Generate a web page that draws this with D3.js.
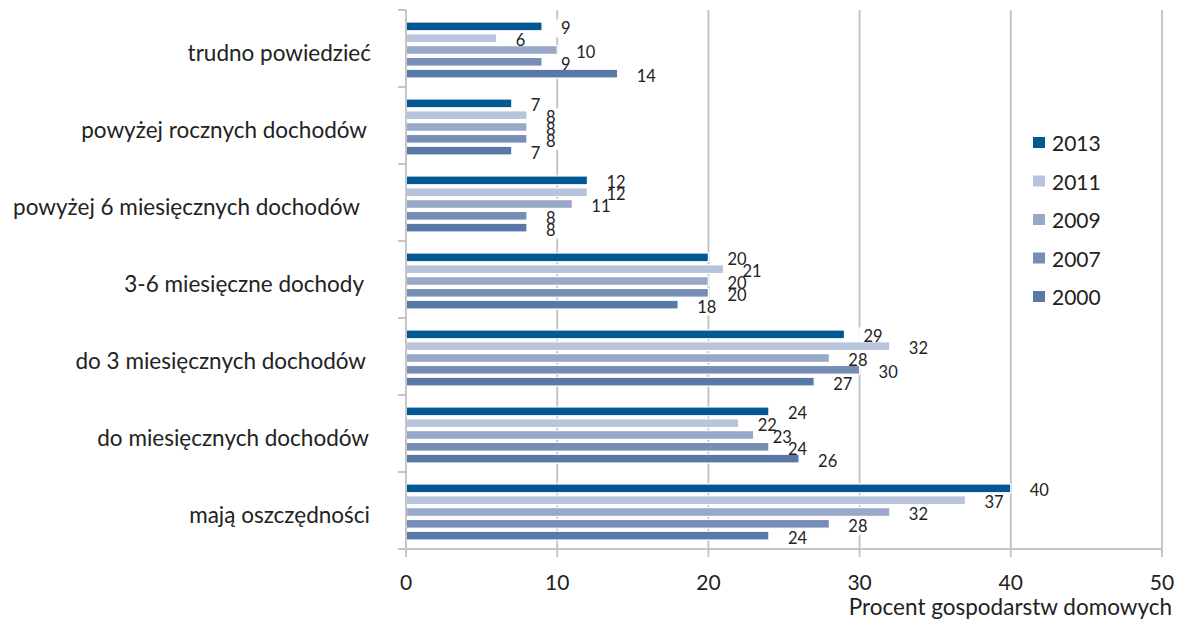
<!DOCTYPE html>
<html>
<head>
<meta charset="utf-8">
<script src="https://cdn.jsdelivr.net/npm/d3@7/dist/d3.min.js"></script>
<style>
  html, body { margin: 0; padding: 0; background: #fff; }
  svg { display: block; font-family: Lato, "Open Sans", sans-serif; }
</style>
</head>
<body>
<svg id="chart" width="1182" height="621"></svg>
<script>
// Savings horizon of households, by survey year
const categories = [
  "trudno powiedzieć",
  "powyżej rocznych dochodów",
  "powyżej 6 miesięcznych dochodów",
  "3-6 miesięczne dochody",
  "do 3 miesięcznych dochodów",
  "do miesięcznych dochodów",
  "mają oszczędności"
];
const years = ["2013", "2011", "2009", "2007", "2000"];
const values2013 = [9, 7, 12, 20, 29, 24, 40];
const values2011 = [6, 8, 12, 21, 32, 22, 37];
const values2009 = [10, 8, 11, 20, 28, 23, 32];
const values2007 = [9, 8, 8, 20, 30, 24, 28];
const values2000 = [14, 7, 8, 18, 27, 26, 24];
const xTicks = [0, 10, 20, 30, 40, 50];
const xTitle = "Procent gospodarstw domowych";

const seriesValues = { "2013": values2013, "2011": values2011, "2009": values2009, "2007": values2007, "2000": values2000 };
const colors = { "2013": "#025892", "2011": "#b8c3dc", "2009": "#97a8c8", "2007": "#768db6", "2000": "#5879a8" };

// right edge of each category label (layout only)
const labelRight = [371, 367, 360, 364, 366, 369, 370];

const svg = d3.select("#chart");
const plotLeft = 406, plotRight = 1162, plotTop = 10, plotBottom = 549;

const x = d3.scaleLinear().domain([0, 50]).range([plotLeft, plotRight]);
const y = d3.scaleBand().domain(categories).range([plotTop, plotBottom]);
const yInner = d3.scaleBand().domain(years).range([12, 68]).paddingInner(0.26);

const gridColor = "#c6c6c6";
const textColor = "#222";

// vertical gridlines
svg.append("g").selectAll("line").data(xTicks.filter(d => d > 0)).join("line")
  .attr("x1", d => x(d)).attr("x2", d => x(d))
  .attr("y1", plotTop).attr("y2", plotBottom)
  .attr("stroke", gridColor).attr("stroke-width", 2);

// layers: label backing, bars, label text
const backLayer = svg.append("g");
const barLayer = svg.append("g");
const labelLayer = svg.append("g");

categories.forEach((c, i) => {
  const y0 = y(c);
  years.forEach(yr => {
    const v = seriesValues[yr][i];
    barLayer.append("rect")
      .attr("x", x(0)).attr("y", y0 + yInner(yr))
      .attr("width", x(v) - x(0)).attr("height", yInner.bandwidth())
      .attr("fill", colors[yr])
      .attr("stroke", "#fff").attr("stroke-width", 1.2);

    const lx = x(v) + 19;
    const ly = y0 + yInner(yr) + yInner.bandwidth() / 2 + 2;
    const t = labelLayer.append("text")
      .attr("x", lx).attr("y", ly)
      .attr("dy", "0.36em")
      .attr("font-size", 16.5).attr("fill", textColor)
      .text(v);
    const w = t.node().getComputedTextLength();
    backLayer.append("rect")
      .attr("x", lx - 5).attr("y", ly - 9)
      .attr("width", w + 9).attr("height", 18)
      .attr("fill", "#fff");
  });
});

// frame: left axis, bottom axis
svg.append("line").attr("x1", plotLeft).attr("x2", plotLeft).attr("y1", plotTop).attr("y2", plotBottom)
  .attr("stroke", gridColor).attr("stroke-width", 2);
svg.append("line").attr("x1", plotLeft - 8).attr("x2", plotRight).attr("y1", plotBottom).attr("y2", plotBottom)
  .attr("stroke", gridColor).attr("stroke-width", 2);

// left tick marks at band boundaries
const boundaries = categories.map(c => y(c)).concat([plotBottom]);
svg.append("g").selectAll("line").data(boundaries).join("line")
  .attr("x1", plotLeft - 8).attr("x2", plotLeft)
  .attr("y1", d => d).attr("y2", d => d)
  .attr("stroke", gridColor).attr("stroke-width", 2);

// bottom tick marks
svg.append("g").selectAll("line").data(xTicks).join("line")
  .attr("x1", d => x(d)).attr("x2", d => x(d))
  .attr("y1", plotBottom).attr("y2", plotBottom + 8)
  .attr("stroke", gridColor).attr("stroke-width", 2);

// x tick labels
svg.append("g").selectAll("text").data(xTicks).join("text")
  .attr("x", d => x(d)).attr("y", 589.5)
  .attr("text-anchor", "middle")
  .attr("font-size", 21).attr("fill", textColor)
  .text(d => d);

// x axis title
svg.append("text")
  .attr("x", 1172).attr("y", 615)
  .attr("text-anchor", "end").attr("font-size", 22.5).attr("fill", textColor)
  .text(xTitle);

// category labels
svg.append("g").selectAll("text").data(categories).join("text")
  .attr("x", (c, i) => labelRight[i]).attr("y", c => y(c) + y.bandwidth() / 2 + 12)
  .attr("text-anchor", "end")
  .attr("font-size", 22.5).attr("fill", textColor)
  .text(c => c);

// legend
const legend = svg.append("g").selectAll("g").data(years).join("g")
  .attr("transform", (d, i) => `translate(1033,${143 + i * 38.5})`);
legend.append("rect").attr("x", 0).attr("y", -6).attr("width", 12).attr("height", 11)
  .attr("fill", d => colors[d]);
legend.append("text").attr("x", 19).attr("y", 8)
  .attr("font-size", 21).attr("fill", textColor).text(d => d);
</script>
</body>
</html>
